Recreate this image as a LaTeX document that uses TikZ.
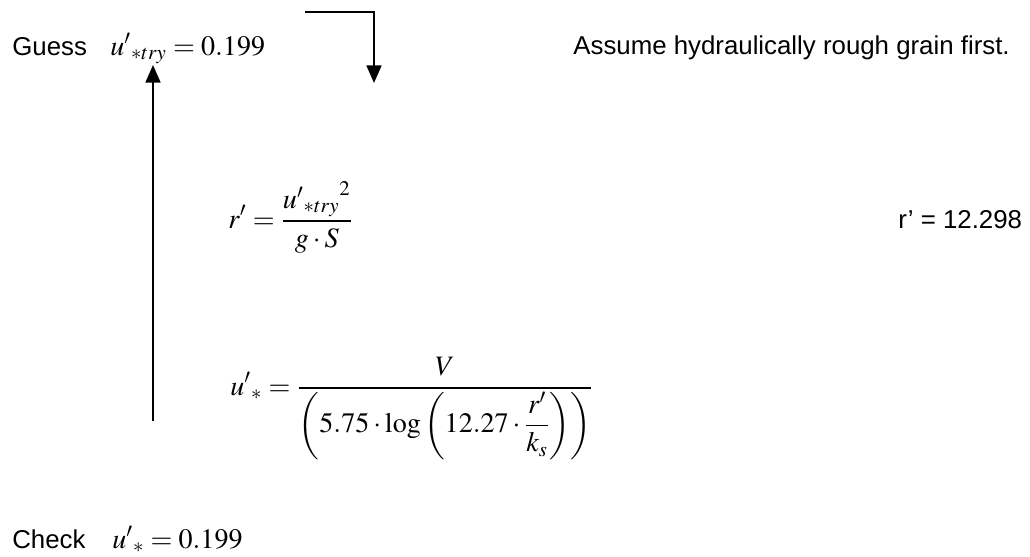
\documentclass[tikz,border=0pt]{standalone}
\usepackage{mathptmx}
\usepackage[no-math]{fontspec}
\setmainfont{Liberation Sans}
\usetikzlibrary{arrows.meta}

\begin{document}
\begin{tikzpicture}[
x=0.02cm,y=-0.02cm,
txt/.style={anchor=base west,inner sep=0pt,font=\fontsize{14.7}{17}\selectfont},
eqn/.style={anchor=base west,inner sep=0pt,font=\fontsize{16}{19}\selectfont},
loop/.style={-{Triangle[width=8.5pt,length=10pt]},line width=1.1pt}
]
\useasboundingbox (0,0) rectangle (1030,556);

\node[txt] (guesslbl) at (12,55) {Guess};
\node[eqn] (guesseq) at (110,55) {${u'}_{*try}=0.199$};
\node[txt] (note) at (573,54) {Assume hydraulically rough grain first.};

\node[eqn] (rformula) at (228,228) {$\displaystyle r'=\frac{{{u'}_{*try}}^{2}}{g\cdot S}$};
\node[txt] (rvalue) at (898,228) {r’ = 12.298};

\node[eqn] (uformula) at (230,395) {$\displaystyle {u'}_{*}=\frac{V}{\left(5.75\cdot\log\left(12.27\cdot{\displaystyle\frac{r'}{k_{s}}}\right)\right)}$};

\node[txt] (checklbl) at (12,548) {Check};
\node[eqn] (checkeq) at (112,548) {${u'}_{*}=0.199$};

\coordinate (stepstart) at (305,12);
\coordinate (stepend) at (374,83);
\coordinate (loopbottom) at (153,421);
\coordinate (looptop) at (153,65);

\draw[loop] (stepstart) -| (stepend);
\draw[loop] (loopbottom) -- (looptop);
\end{tikzpicture}
\end{document}
